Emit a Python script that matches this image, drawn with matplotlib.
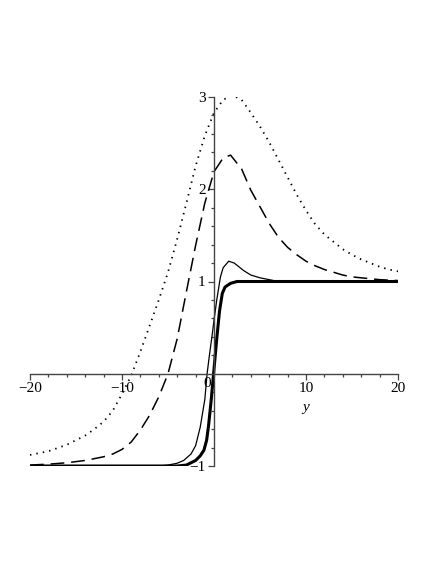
import matplotlib as mpl
mpl.use("Agg")
import matplotlib.pyplot as plt
from matplotlib.ticker import MultipleLocator

plt.rcParams['font.family'] = ['Liberation Serif', 'DejaVu Serif']

# values
x_dot = [-20, -18, -16, -14, -13, -12, -11, -10, -9, -8, -7, -6, -5, -4, -3, -2, -1, 0,
         1, 2, 3, 4, 5, 6, 7, 8, 9, 10, 11, 12, 13, 14, 15, 16, 17, 18, 19, 20]
y_dot = [-0.88, -0.84, -0.77, -0.67, -0.60, -0.52, -0.40, -0.22, -0.02, 0.24, 0.52, 0.80,
         1.10, 1.46, 1.85, 2.25, 2.58, 2.83, 2.97, 3.02, 2.97, 2.83, 2.68, 2.51, 2.32,
         2.13, 1.94, 1.77, 1.62, 1.51, 1.43, 1.35, 1.29, 1.24, 1.20, 1.16, 1.13, 1.11]

x_dash = [-20, -18, -16, -14, -12, -11, -10, -9, -8, -7, -6, -5, -4, -3, -2, -1, 0,
          1, 1.8, 3, 4, 5, 6, 7, 8, 9, 10, 11, 12, 13, 14, 15, 16, 17, 18, 20]
y_dash = [-0.99, -0.98, -0.965, -0.94, -0.90, -0.87, -0.82, -0.74, -0.61, -0.45, -0.25,
          0.0, 0.38, 0.89, 1.39, 1.85, 2.19, 2.34, 2.37, 2.22, 1.99, 1.81, 1.63, 1.48,
          1.37, 1.29, 1.22, 1.17, 1.13, 1.10, 1.07, 1.05, 1.04, 1.03, 1.02, 1.01]

x_thin = [-20, -8, -6, -5, -4, -3.3, -2.5, -2, -1.5, -1.2, -1, -0.75, -0.5, -0.2, 0,
          0.3, 0.7, 1, 1.6, 2.2, 3.2, 4, 5, 6, 7, 10, 20]
y_thin = [-1.0, -1.0, -1.0, -0.99, -0.97, -0.94, -0.87, -0.78, -0.58, -0.40, -0.28, 0.0,
          0.2, 0.42, 0.58, 0.80, 1.05, 1.15, 1.22, 1.20, 1.12, 1.07, 1.04, 1.02, 1.0,
          1.0, 1.0]

x_thick = [-20, -5, -4, -3, -2.6, -2, -1.5, -1.1, -0.8, -0.6, -0.3, 0, 0.3, 0.6, 0.9,
           1.2, 1.8, 2.5, 4, 20]
y_thick = [-1.0, -1.0, -1.0, -0.99, -0.97, -0.94, -0.89, -0.83, -0.72, -0.57, -0.28,
           0.05, 0.38, 0.68, 0.87, 0.94, 0.98, 1.0, 1.0, 1.0]

fig = plt.figure(figsize=(4.36, 5.64), dpi=100)
ax = fig.add_axes([30 / 436, 1 - 466 / 564, 368 / 436, 369 / 564])

ax.plot(x_dot, y_dot, color='black', lw=1.3, linestyle=(0, (0.8, 2.8)))
ax.plot(x_dash, y_dash, color='black', lw=1.1, linestyle=(0, (9, 4.5)))
ax.plot(x_thin, y_thin, color='black', lw=0.9)
ax.plot(x_thick, y_thick, color='black', lw=2.2)

ax.set_xlim(-20, 20)
ax.set_ylim(-1, 3)

for side in ['top', 'right']:
    ax.spines[side].set_visible(False)
ax.spines['left'].set_position(('data', 0))
ax.spines['bottom'].set_position(('data', 0))
for side in ['left', 'bottom']:
    ax.spines[side].set_color('#444444')
    ax.spines[side].set_linewidth(1.0)

ax.set_xticks([-20, -10, 10, 20])
ax.set_xticklabels(['\u221220', '\u221210', '10', '20'])
ax.xaxis.set_minor_locator(MultipleLocator(2))
ax.set_yticks([-1, 1, 2, 3])
ax.set_yticklabels(['\u22121', '1', '2', '3'])
ax.yaxis.set_minor_locator(MultipleLocator(0.2))
ax.tick_params(which='both', direction='out', color='#444444', labelsize=11, width=0.9)
ax.tick_params(which='major', length=4, pad=2)
ax.tick_params(which='minor', length=2.5)

ax.text(-0.75, -0.03, '0', ha='center', va='top', fontsize=11)
ax.text(10, -0.3, 'y', ha='center', va='top', fontsize=11, style='italic')

fig.savefig('out.png', dpi=100)
